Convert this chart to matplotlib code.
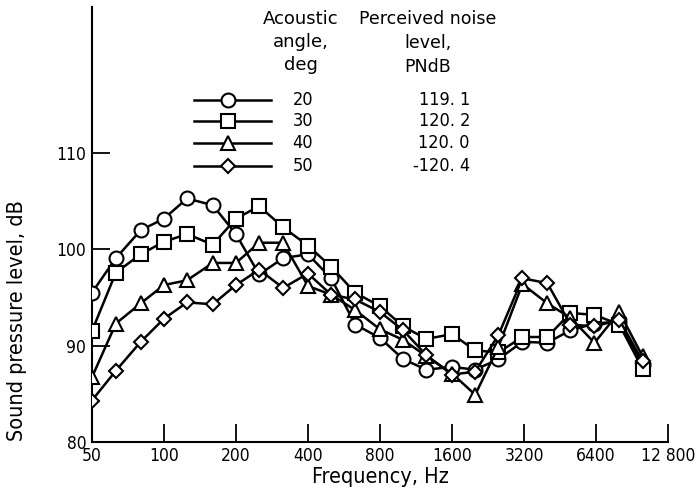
import numpy as np
import matplotlib
matplotlib.use("Agg")
import matplotlib.pyplot as plt

plt.rcParams['font.family'] = ['DejaVu Sans']

# one-third octave band centre frequencies, Hz
freq = [50, 63, 80, 100, 125, 160, 200, 250, 315, 400, 500, 630, 800,
        1000, 1250, 1600, 2000, 2500, 3150, 4000, 5000, 6300, 8000, 10000]

# sound pressure level, dB, for each acoustic angle
spl_20 = [95.5, 99.1, 102.0, 103.2, 105.3, 104.6, 101.6, 97.4, 99.1, 99.5, 97.0, 92.2,
          90.8, 88.6, 87.5, 87.8, 87.5, 88.6, 90.4, 90.3, 91.6, 92.3, 92.5, 88.0]
spl_30 = [91.5, 97.6, 99.5, 100.8, 101.6, 100.5, 103.2, 104.5, 102.3, 100.4, 98.2, 95.5,
          94.1, 92.0, 90.7, 91.2, 89.5, 89.3, 90.9, 90.9, 93.4, 93.2, 92.2, 87.6]
spl_40 = [86.7, 92.3, 94.4, 96.3, 96.8, 98.6, 98.6, 100.7, 100.7, 96.2, 95.3, 93.7,
          91.7, 90.6, 88.9, 87.1, 84.9, 89.9, 96.4, 94.4, 92.9, 90.3, 93.5, 88.9]
spl_50 = [84.3, 87.4, 90.4, 92.8, 94.5, 94.3, 96.3, 97.9, 96.0, 97.5, 95.3, 94.8,
          93.5, 91.6, 89.0, 87.0, 87.3, 91.1, 97.0, 96.5, 92.2, 92.0, 92.7, 88.4]

angles = ['20', '30', '40', '50']
pndb = ['119. 1', '120. 2', '120. 0', '-120. 4']
markers = ['o', 's', '^', 'D']
series = [spl_20, spl_30, spl_40, spl_50]

xticks = [50, 100, 200, 400, 800, 1600, 3200, 6400, 12800]
xticklabels = ['50', '100', '200', '400', '800', '1600', '3200', '6400', '12 800']

fig = plt.figure(figsize=(6.96, 5.01), dpi=100)
ax = fig.add_axes([0.132, 0.118, 0.828, 0.868])

for spl, m in zip(series, markers):
    ms = 7.5 if m == 'D' else 10
    ax.plot(freq, spl, color='black', lw=1.8, marker=m, ms=ms,
            mfc='white', mec='black', mew=1.5, zorder=3)

ax.set_xscale('log')
ax.set_xlim(50, 12800)
ax.set_ylim(80, 125.2)
ax.set_xticks(xticks)
ax.set_xticklabels(xticklabels)
ax.minorticks_off()
ax.set_yticks([80, 90, 100, 110])
ax.tick_params(direction='in', length=13, width=1.3, labelsize=12.5, pad=4)
for lab in ax.get_xticklabels() + ax.get_yticklabels():
    lab.set_fontstretch('condensed')

for side in ['top', 'right']:
    ax.spines[side].set_visible(False)
for side in ['left', 'bottom']:
    ax.spines[side].set_linewidth(1.5)

ax.set_xlabel('Frequency, Hz', fontsize=15.5, fontstretch='condensed', labelpad=1)
ax.set_ylabel('Sound pressure level, dB', fontsize=15.5, fontstretch='condensed')
ax.yaxis.set_label_coords(-0.113, 0.28)

# key drawn inside the axes
ax.text(0.363, 0.992, 'Acoustic\nangle,\ndeg', transform=ax.transAxes,
        ha='center', va='top', fontsize=13, linespacing=1.35)
ax.text(0.583, 0.992, 'Perceived noise\nlevel,\nPNdB', transform=ax.transAxes,
        ha='center', va='top', fontsize=12.5, linespacing=1.4)
rows_y = [0.786, 0.737, 0.687, 0.634]
for y, m, a, p in zip(rows_y, markers, angles, pndb):
    ms = 7.5 if m == 'D' else 10
    ax.plot([0.177, 0.236, 0.31], [y, y, y], transform=ax.transAxes,
            color='black', lw=1.8, marker=m, ms=ms, markevery=[1],
            mfc='white', mec='black', mew=1.5, clip_on=False)
    ax.text(0.366, y, a, transform=ax.transAxes, ha='center', va='center',
            fontsize=13, fontstretch='condensed')
    ax.text(0.656, y, p, transform=ax.transAxes, ha='right', va='center',
            fontsize=13, fontstretch='condensed')

fig.savefig('out.png', dpi=100)
